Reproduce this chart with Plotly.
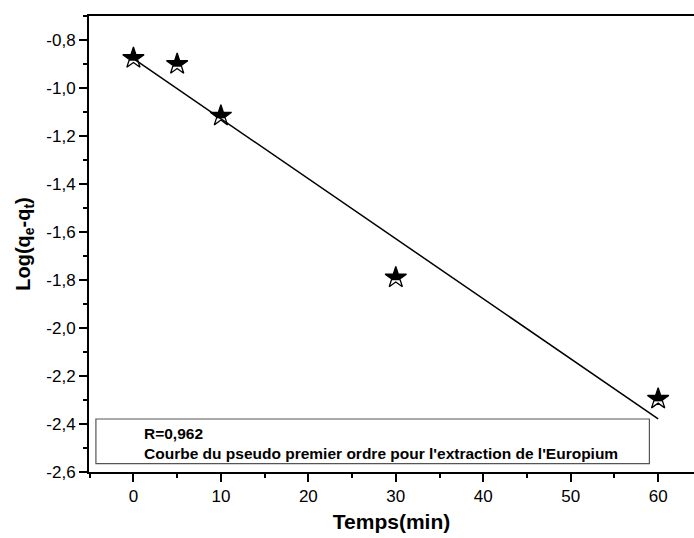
import plotly.graph_objects as go

# Pseudo-first-order kinetics: log(qe - qt) versus contact time
temps = [0, 5, 10, 30, 60]
log_qe_qt = [-0.875, -0.90, -1.115, -1.79, -2.295]

# Linear fit parameters
fit_intercept = -0.877
fit_slope = -0.02502
fit_x = [0, 60]
fit_y = [fit_intercept + fit_slope * t for t in fit_x]

x_ticks = [0, 10, 20, 30, 40, 50, 60]
y_ticks = [-2.6, -2.4, -2.2, -2.0, -1.8, -1.6, -1.4, -1.2, -1.0, -0.8]
y_tick_labels = [f"{v:.1f}".replace(".", ",") for v in y_ticks]

r_label = "R=0,962"
caption = "Courbe du pseudo premier ordre pour l'extraction de l'Europium"

X_RANGE = [-5.08, 64.1]
Y_RANGE = [-2.6, -0.699]
PLOT_H = 456
# vertical offset (in data units) used to mask the lower half of each star
half_mask_shift = 11.5 * (Y_RANGE[1] - Y_RANGE[0]) / PLOT_H

FONT = "Arial, 'Liberation Sans', sans-serif"
STAR = 16

fig = go.Figure()

# filled star (upper half stays visible)
fig.add_trace(go.Scatter(
    x=temps, y=log_qe_qt, mode="markers", yaxis="y",
    marker=dict(symbol="star", size=STAR, color="black", line=dict(width=0)),
    showlegend=False, hoverinfo="skip"))

# white mask over the lower half of the filled star
fig.add_trace(go.Scatter(
    x=temps, y=log_qe_qt, mode="markers", yaxis="y2",
    marker=dict(symbol="square", size=18, color="white", line=dict(width=0)),
    showlegend=False, hoverinfo="skip"))

# star outline
fig.add_trace(go.Scatter(
    x=temps, y=log_qe_qt, mode="markers", yaxis="y3",
    marker=dict(symbol="star-open", size=STAR, color="black",
                line=dict(width=1.3, color="black")),
    showlegend=False))

# fitted line
fig.add_trace(go.Scatter(
    x=fit_x, y=fit_y, mode="lines", yaxis="y3",
    line=dict(color="black", width=1.5),
    showlegend=False))

# caption box
fig.add_shape(type="rect", xref="x", yref="y",
              x0=-4.29, x1=59.0, y0=-2.565, y1=-2.379,
              line=dict(color="#555555", width=1.2), fillcolor="rgba(0,0,0,0)")

fig.add_annotation(x=0.94, y=-2.4376, xref="x", yref="y", xanchor="left",
                   yanchor="middle", showarrow=False, text=f"<b>{r_label}</b>",
                   font=dict(family=FONT, size=15.5, color="black"))
fig.add_annotation(x=0.94, y=-2.521, xref="x", yref="y", xanchor="left",
                   yanchor="middle", showarrow=False, text=f"<b>{caption}</b>",
                   font=dict(family=FONT, size=15.5, color="black"))

axis_common = dict(
    showgrid=False, zeroline=False, showline=True, linecolor="black",
    linewidth=2, ticks="outside", ticklen=8, tickwidth=1.5, tickcolor="black",
    tickfont=dict(family=FONT, size=17, color="black"),
)

fig.update_layout(
    width=694, height=538,
    margin=dict(l=89, r=0, t=16, b=66),
    paper_bgcolor="white", plot_bgcolor="white",
    font=dict(family=FONT, color="black"),
    xaxis=dict(
        **axis_common, range=X_RANGE, tickvals=x_ticks, mirror=True,
        minor=dict(dtick=5, tick0=0, ticks="outside", ticklen=4,
                   tickwidth=1.5, tickcolor="black", showgrid=False),
        title=dict(text="<b>Temps(min)</b>", standoff=9,
                   font=dict(family=FONT, size=21, color="black")),
    ),
    yaxis=dict(
        **axis_common, range=Y_RANGE, tickvals=y_ticks, ticktext=y_tick_labels,
        minor=dict(dtick=0.1, tick0=0, ticks="outside", ticklen=4,
                   tickwidth=1.5, tickcolor="black", showgrid=False),
        title=dict(text="<b>Log(q<sub>e</sub>-q<sub>t</sub>)</b>", standoff=10,
                   font=dict(family=FONT, size=20, color="black")),
    ),
    yaxis2=dict(overlaying="y", visible=False,
                range=[Y_RANGE[0] + half_mask_shift, Y_RANGE[1] + half_mask_shift]),
    yaxis3=dict(overlaying="y", visible=False, range=Y_RANGE),
)

fig.write_html("out.html")
